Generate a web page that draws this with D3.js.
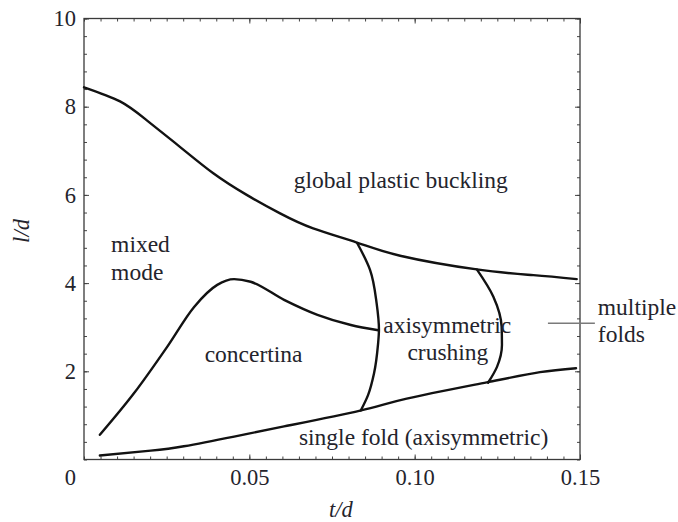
<!DOCTYPE html>
<html>
<head>
<meta charset="utf-8">
<script src="https://cdn.jsdelivr.net/npm/d3@7"></script>
<style>
  html, body { margin: 0; padding: 0; background: #fff; }
  svg { display: block; }
  .lbl { font-family: "Liberation Serif", "Times New Roman", serif; fill: #24242c; }
  .tick text { font-family: "Liberation Serif", "Times New Roman", serif; font-size: 22.5px; fill: #24242c; }
  .tick line { stroke: #444; stroke-width: 1; }
</style>
</head>
<body>
<svg id="chart" width="678" height="522"></svg>
<script>
// Collapse-mode map of tube crushing: boundaries in (t/d, l/d) space

// upper boundary: global plastic buckling
const globalT = [0.0000, 0.0109, 0.0190, 0.0290, 0.0391, 0.0492, 0.0593, 0.0693, 0.0825, 0.0956, 0.1188, 0.1359, 0.1490];
const globalL = [8.44, 8.12, 7.69, 7.09, 6.49, 6.00, 5.58, 5.24, 4.92, 4.62, 4.31, 4.18, 4.09];

// mixed mode / concertina boundary
const concT = [0.0048, 0.0151, 0.0252, 0.0333, 0.0403, 0.0454, 0.0504, 0.0605, 0.0706, 0.0807, 0.0890];
const concL = [0.56, 1.50, 2.56, 3.46, 3.96, 4.09, 4.03, 3.62, 3.28, 3.05, 2.93];

// lower boundary: single fold (axisymmetric)
const singleT = [0.0048, 0.0202, 0.0302, 0.0454, 0.0605, 0.0835, 0.0976, 0.1218, 0.1379, 0.1488];
const singleL = [0.09, 0.20, 0.30, 0.52, 0.75, 1.11, 1.38, 1.75, 1.98, 2.07];

// left edge of the axisymmetric crushing region
const arc1T = [0.0826, 0.0865, 0.0885, 0.0892, 0.0889, 0.0877, 0.0859, 0.0837];
const arc1L = [4.91, 4.30, 3.54, 2.94, 2.60, 1.95, 1.46, 1.11];

// right edge (towards multiple folds)
const arc2T = [0.1188, 0.1238, 0.1263, 0.1264, 0.1249, 0.1222];
const arc2L = [4.31, 3.69, 3.01, 2.60, 2.10, 1.74];

const xMajor = [0.05, 0.10, 0.15];
const xMajorLabels = ["0.05", "0.10", "0.15"];
const yMajor = [2, 4, 6, 8, 10];

const regionLabels = [
  { text: "global plastic buckling", t: 0.0634, l: 6.15 },
  { text: "mixed", t: 0.0082, l: 4.70 },
  { text: "mode", t: 0.0082, l: 4.07 },
  { text: "concertina", t: 0.0365, l: 2.22 },
  { text: "axisymmetric", t: 0.0905, l: 2.86 },
  { text: "crushing", t: 0.0978, l: 2.26 },
  { text: "single fold (axisymmetric)", t: 0.0650, l: 0.33 },
  { text: "multiple", t: 0.1554, l: 3.28 },
  { text: "folds", t: 0.1554, l: 2.67 }
];

const svg = d3.select("#chart");
const plotL = 84, plotR = 580, plotT = 18.5, plotB = 459.5;

const x = d3.scaleLinear().domain([0, 0.15]).range([plotL, plotR]);
const y = d3.scaleLinear().domain([0, 10]).range([plotB, plotT]);

const xMinor = d3.range(0, 31).map(i => i * 0.005);
const yMinor = d3.range(0, 26).map(i => +(i * 0.4).toFixed(2));

// inward minor ticks on all four sides
svg.append("g").attr("transform", `translate(0,${plotB})`)
  .call(d3.axisBottom(x).tickValues(xMinor).tickSize(-3).tickFormat(""));
svg.append("g").attr("transform", `translate(0,${plotT})`)
  .call(d3.axisTop(x).tickValues(xMinor).tickSize(-3).tickFormat(""));
svg.append("g").attr("transform", `translate(${plotL},0)`)
  .call(d3.axisLeft(y).tickValues(yMinor).tickSize(-3).tickFormat(""));
svg.append("g").attr("transform", `translate(${plotR},0)`)
  .call(d3.axisRight(y).tickValues(yMinor).tickSize(-3).tickFormat(""));

// major ticks with labels
svg.append("g").attr("transform", `translate(0,${plotB})`)
  .call(d3.axisBottom(x).tickValues(xMajor).tickSize(-5).tickPadding(10)
    .tickFormat((d, i) => xMajorLabels[i]));
svg.append("g").attr("transform", `translate(0,${plotT})`)
  .call(d3.axisTop(x).tickValues(xMajor).tickSize(-5).tickFormat(""));
svg.append("g").attr("transform", `translate(${plotL},0)`)
  .call(d3.axisLeft(y).tickValues(yMajor).tickSize(-5).tickPadding(8));
svg.append("g").attr("transform", `translate(${plotR},0)`)
  .call(d3.axisRight(y).tickValues(yMajor).tickSize(-5).tickFormat(""));

svg.selectAll(".domain").remove();

// shared origin label
svg.append("text").attr("class", "lbl")
  .attr("x", plotL - 8).attr("y", 485)
  .attr("text-anchor", "end").attr("font-size", 22.5).text("0");

// plot frame
svg.append("rect")
  .attr("x", plotL).attr("y", plotT)
  .attr("width", plotR - plotL).attr("height", plotB - plotT)
  .attr("fill", "none").attr("stroke", "#3a3a3a").attr("stroke-width", 1.3);

// boundaries: smooth splines for the long curves, monotone for the peaked one and the arcs
const mk = curve => d3.line().x(d => x(d[0])).y(d => y(d[1])).curve(curve);
const curves = [
  { pts: d3.zip(globalT, globalL), gen: mk(d3.curveNatural) },
  { pts: d3.zip(concT, concL), gen: mk(d3.curveMonotoneX) },
  { pts: d3.zip(singleT, singleL), gen: mk(d3.curveNatural) },
  { pts: d3.zip(arc1T, arc1L), gen: mk(d3.curveMonotoneY) },
  { pts: d3.zip(arc2T, arc2L), gen: mk(d3.curveMonotoneY) }
];
svg.append("g").selectAll("path")
  .data(curves)
  .join("path")
  .attr("d", c => c.gen(c.pts))
  .attr("fill", "none")
  .attr("stroke", "#121212")
  .attr("stroke-width", 2.4)
  .attr("stroke-linecap", "round")
  .attr("stroke-linejoin", "round");

// pointer to the multiple folds label
svg.append("line")
  .attr("x1", x(0.1403)).attr("x2", x(0.1545))
  .attr("y1", y(3.09)).attr("y2", y(3.09))
  .attr("stroke", "#7a7a7a").attr("stroke-width", 1.4);

// region labels
svg.append("g").selectAll("text")
  .data(regionLabels)
  .join("text")
  .attr("class", "lbl")
  .attr("x", d => x(d.t))
  .attr("y", d => y(d.l))
  .attr("font-size", 23.5)
  .text(d => d.text);

// axis titles
svg.append("text").attr("class", "lbl")
  .attr("x", 341).attr("y", 517)
  .attr("text-anchor", "middle").attr("font-size", 22.5).attr("font-style", "italic")
  .text("t/d");
svg.append("text").attr("class", "lbl")
  .attr("transform", "translate(29,231) rotate(-90)")
  .attr("text-anchor", "middle").attr("font-size", 22.5).attr("font-style", "italic")
  .text("l/d");
</script>
</body>
</html>
